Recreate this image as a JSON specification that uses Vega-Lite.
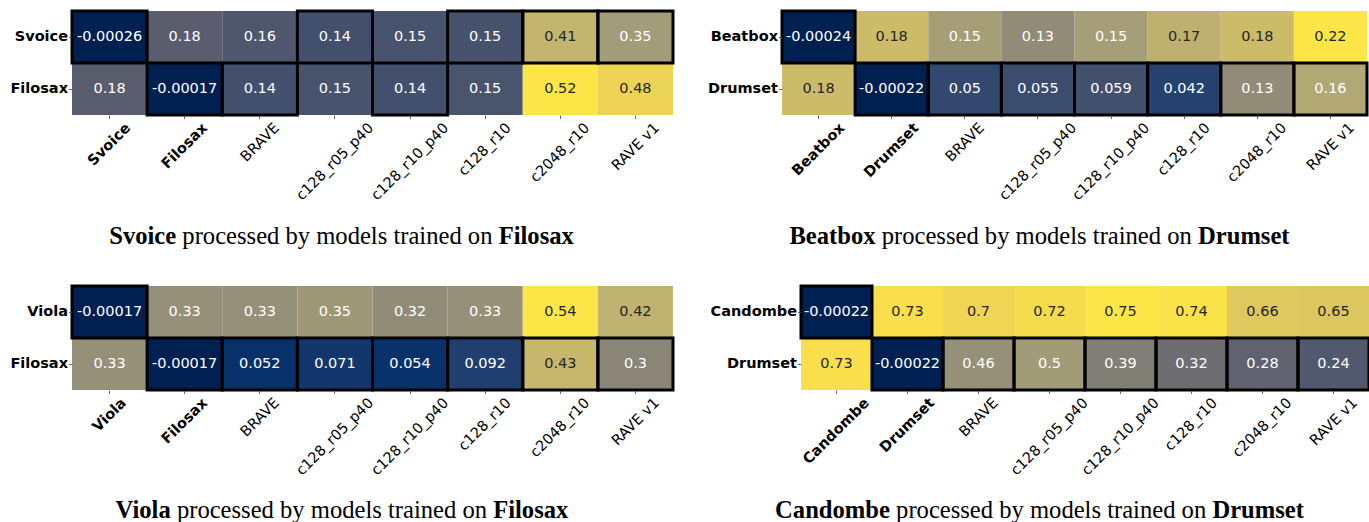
{
  "$schema": "https://vega.github.io/schema/vega-lite/v6.json",
  "padding": {"left": 9, "top": 9, "right": 0, "bottom": 0},
  "background": "white",
  "config": {"view": {"stroke": null}, "axis": {"grid": false}},
  "data": {"values": [
    {"panel": 1, "row": "Svoice", "col": "Svoice", "v": -0.00026},
    {"panel": 1, "row": "Svoice", "col": "Filosax", "v": 0.18},
    {"panel": 1, "row": "Svoice", "col": "BRAVE", "v": 0.16},
    {"panel": 1, "row": "Svoice", "col": "c128_r05_p40", "v": 0.14},
    {"panel": 1, "row": "Svoice", "col": "c128_r10_p40", "v": 0.15},
    {"panel": 1, "row": "Svoice", "col": "c128_r10", "v": 0.149},
    {"panel": 1, "row": "Svoice", "col": "c2048_r10", "v": 0.41},
    {"panel": 1, "row": "Svoice", "col": "RAVE v1", "v": 0.35},
    {"panel": 1, "row": "Filosax", "col": "Svoice", "v": 0.18},
    {"panel": 1, "row": "Filosax", "col": "Filosax", "v": -0.00017},
    {"panel": 1, "row": "Filosax", "col": "BRAVE", "v": 0.14},
    {"panel": 1, "row": "Filosax", "col": "c128_r05_p40", "v": 0.15},
    {"panel": 1, "row": "Filosax", "col": "c128_r10_p40", "v": 0.14},
    {"panel": 1, "row": "Filosax", "col": "c128_r10", "v": 0.152},
    {"panel": 1, "row": "Filosax", "col": "c2048_r10", "v": 0.52},
    {"panel": 1, "row": "Filosax", "col": "RAVE v1", "v": 0.48},
    {"panel": 2, "row": "Beatbox", "col": "Beatbox", "v": -0.00024},
    {"panel": 2, "row": "Beatbox", "col": "Drumset", "v": 0.18},
    {"panel": 2, "row": "Beatbox", "col": "BRAVE", "v": 0.15},
    {"panel": 2, "row": "Beatbox", "col": "c128_r05_p40", "v": 0.13},
    {"panel": 2, "row": "Beatbox", "col": "c128_r10_p40", "v": 0.15},
    {"panel": 2, "row": "Beatbox", "col": "c128_r10", "v": 0.17},
    {"panel": 2, "row": "Beatbox", "col": "c2048_r10", "v": 0.18},
    {"panel": 2, "row": "Beatbox", "col": "RAVE v1", "v": 0.22},
    {"panel": 2, "row": "Drumset", "col": "Beatbox", "v": 0.18},
    {"panel": 2, "row": "Drumset", "col": "Drumset", "v": -0.00022},
    {"panel": 2, "row": "Drumset", "col": "BRAVE", "v": 0.05},
    {"panel": 2, "row": "Drumset", "col": "c128_r05_p40", "v": 0.055},
    {"panel": 2, "row": "Drumset", "col": "c128_r10_p40", "v": 0.059},
    {"panel": 2, "row": "Drumset", "col": "c128_r10", "v": 0.042},
    {"panel": 2, "row": "Drumset", "col": "c2048_r10", "v": 0.13},
    {"panel": 2, "row": "Drumset", "col": "RAVE v1", "v": 0.16},
    {"panel": 3, "row": "Viola", "col": "Viola", "v": -0.00017},
    {"panel": 3, "row": "Viola", "col": "Filosax", "v": 0.33},
    {"panel": 3, "row": "Viola", "col": "BRAVE", "v": 0.33},
    {"panel": 3, "row": "Viola", "col": "c128_r05_p40", "v": 0.35},
    {"panel": 3, "row": "Viola", "col": "c128_r10_p40", "v": 0.32},
    {"panel": 3, "row": "Viola", "col": "c128_r10", "v": 0.33},
    {"panel": 3, "row": "Viola", "col": "c2048_r10", "v": 0.54},
    {"panel": 3, "row": "Viola", "col": "RAVE v1", "v": 0.42},
    {"panel": 3, "row": "Filosax", "col": "Viola", "v": 0.33},
    {"panel": 3, "row": "Filosax", "col": "Filosax", "v": -0.00017},
    {"panel": 3, "row": "Filosax", "col": "BRAVE", "v": 0.052},
    {"panel": 3, "row": "Filosax", "col": "c128_r05_p40", "v": 0.071},
    {"panel": 3, "row": "Filosax", "col": "c128_r10_p40", "v": 0.054},
    {"panel": 3, "row": "Filosax", "col": "c128_r10", "v": 0.092},
    {"panel": 3, "row": "Filosax", "col": "c2048_r10", "v": 0.43},
    {"panel": 3, "row": "Filosax", "col": "RAVE v1", "v": 0.3},
    {"panel": 4, "row": "Candombe", "col": "Candombe", "v": -0.00022},
    {"panel": 4, "row": "Candombe", "col": "Drumset", "v": 0.73},
    {"panel": 4, "row": "Candombe", "col": "BRAVE", "v": 0.7},
    {"panel": 4, "row": "Candombe", "col": "c128_r05_p40", "v": 0.72},
    {"panel": 4, "row": "Candombe", "col": "c128_r10_p40", "v": 0.75},
    {"panel": 4, "row": "Candombe", "col": "c128_r10", "v": 0.74},
    {"panel": 4, "row": "Candombe", "col": "c2048_r10", "v": 0.66},
    {"panel": 4, "row": "Candombe", "col": "RAVE v1", "v": 0.65},
    {"panel": 4, "row": "Drumset", "col": "Candombe", "v": 0.73},
    {"panel": 4, "row": "Drumset", "col": "Drumset", "v": -0.00022},
    {"panel": 4, "row": "Drumset", "col": "BRAVE", "v": 0.46},
    {"panel": 4, "row": "Drumset", "col": "c128_r05_p40", "v": 0.5},
    {"panel": 4, "row": "Drumset", "col": "c128_r10_p40", "v": 0.39},
    {"panel": 4, "row": "Drumset", "col": "c128_r10", "v": 0.32},
    {"panel": 4, "row": "Drumset", "col": "c2048_r10", "v": 0.28},
    {"panel": 4, "row": "Drumset", "col": "RAVE v1", "v": 0.24}
  ]},
  "spacing": 36,
  "resolve": {"scale": {"color": "independent", "x": "independent", "y": "independent"}},
  "vconcat": [
    {
      "spacing": 32,
      "resolve": {"scale": {"color": "independent", "x": "independent", "y": "independent"}},
      "hconcat": [
        {
          "width": 601, "height": 104,
          "transform": [
            {"filter": "datum.panel == 1"},
            {"joinaggregate": [{"op": "min", "field": "v", "as": "vmin"}, {"op": "max", "field": "v", "as": "vmax"}]},
            {"joinaggregate": [{"op": "min", "field": "v", "as": "cmin"}], "groupby": ["col"]},
            {"calculate": "(datum.v - datum.vmin) / (datum.vmax - datum.vmin)", "as": "t"},
            {"calculate": "replace(format(datum.v, '.2~g'), '\u2212', '-')", "as": "label"}
          ],
          "encoding": {
            "x": {"field": "col", "type": "nominal",
              "scale": {"domain": ["Svoice", "Filosax", "BRAVE", "c128_r05_p40", "c128_r10_p40", "c128_r10", "c2048_r10", "RAVE v1"], "paddingInner": 0, "paddingOuter": 0},
              "axis": {"orient": "bottom", "labelAngle": -45, "labelAlign": "right", "labelBaseline": "middle",
                "labelFont": "DejaVu Sans", "labelFontSize": 14.5, "labelColor": "#000",
                "labelFontWeight": {"condition": {"test": "indexof(['Svoice','Filosax','Beatbox','Drumset','Viola','Candombe'], datum.value) >= 0", "value": "bold"}, "value": "normal"},
                "labelOffset": {"condition": [
                  {"test": "datum.value == 'Svoice'", "value": 18.8},
                  {"test": "datum.value == 'Filosax'", "value": 20.5},
                  {"test": "datum.value == 'Beatbox'", "value": 23.9},
                  {"test": "datum.value == 'Drumset'", "value": 24.8},
                  {"test": "datum.value == 'Viola'", "value": 14.5},
                  {"test": "datum.value == 'Candombe'", "value": 30.6},
                  {"test": "datum.value == 'BRAVE'", "value": 17.3},
                  {"test": "datum.value == 'c128_r05_p40' || datum.value == 'c128_r10_p40'", "value": 36.4},
                  {"test": "datum.value == 'c128_r10'", "value": 23.8},
                  {"test": "datum.value == 'c2048_r10'", "value": 27.1}
                ], "value": 21.7},
                "labelPadding": 7, "labelOverlap": false, "labelBound": false,
                "tickSize": 3.5, "tickColor": "#444", "tickWidth": 0.8, "domain": false,
                "title": "processed by models trained on", "titleX": 264.9, "titleY": 128, "titleAlign": "center", "titleBaseline": "alphabetic", "titleAngle": 0,
                "titleFont": "Liberation Serif", "titleFontSize": 24.6, "titleFontWeight": "normal", "titleColor": "#000"}}
          },
          "layer": [
            {"mark": {"type": "rect"},
              "encoding": {
                "y": {"field": "row", "type": "nominal", "scale": {"domain": ["Svoice", "Filosax"], "paddingInner": 0, "paddingOuter": 0},
                  "axis": {"orient": "left", "labelFont": "DejaVu Sans", "labelFontSize": 14.5, "labelFontWeight": "bold", "labelColor": "#000", "labelPadding": 1,
                    "tickSize": 3.5, "tickColor": "#444", "tickWidth": 0.8, "domain": false, "labelOverlap": false,
                    "title": "Svoice", "titleAngle": 0, "titleAlign": "right", "titleBaseline": "alphabetic", "titleX": 103.65, "titleY": 232,
                    "titleFont": "Liberation Serif", "titleFontSize": 24.6, "titleFontWeight": "bold", "titleColor": "#000"}},
                "color": {"field": "v", "type": "quantitative", "scale": {"scheme": "cividis"}, "legend": null}
              }},
            {"mark": {"type": "text", "font": "DejaVu Sans", "fontSize": 14.5},
              "encoding": {
                "y": {"field": "row", "type": "nominal",
                  "axis": {"orient": "right", "labels": false, "ticks": false, "domain": false,
                    "title": "Filosax", "titleAngle": 0, "titleAlign": "left", "titleBaseline": "alphabetic", "titleX": -174.85, "titleY": 232,
                    "titleFont": "Liberation Serif", "titleFontSize": 24.6, "titleFontWeight": "bold", "titleColor": "#000"}},
                "text": {"field": "label"},
                "color": {"condition": {"test": "datum.t > 0.755", "value": "#262626"}, "value": "#ffffff"}
              }},
            {"mark": {"type": "rect", "fill": "transparent", "stroke": "#000", "strokeWidth": 3},
              "encoding": {
                "y": {"field": "row", "type": "nominal", "axis": null},
                "strokeOpacity": {"condition": {"test": "datum.v == datum.cmin", "value": 1}, "value": 0}
              }}
          ],
          "resolve": {"axis": {"y": "independent"}}
        },
        {
          "width": 585, "height": 104,
          "transform": [
            {"filter": "datum.panel == 2"},
            {"joinaggregate": [{"op": "min", "field": "v", "as": "vmin"}, {"op": "max", "field": "v", "as": "vmax"}]},
            {"joinaggregate": [{"op": "min", "field": "v", "as": "cmin"}], "groupby": ["col"]},
            {"calculate": "(datum.v - datum.vmin) / (datum.vmax - datum.vmin)", "as": "t"},
            {"calculate": "replace(format(datum.v, '.2~g'), '\u2212', '-')", "as": "label"}
          ],
          "encoding": {
            "x": {"field": "col", "type": "nominal",
              "scale": {"domain": ["Beatbox", "Drumset", "BRAVE", "c128_r05_p40", "c128_r10_p40", "c128_r10", "c2048_r10", "RAVE v1"], "paddingInner": 0, "paddingOuter": 0},
              "axis": {"orient": "bottom", "labelAngle": -45, "labelAlign": "right", "labelBaseline": "middle",
                "labelFont": "DejaVu Sans", "labelFontSize": 14.5, "labelColor": "#000",
                "labelFontWeight": {"condition": {"test": "indexof(['Svoice','Filosax','Beatbox','Drumset','Viola','Candombe'], datum.value) >= 0", "value": "bold"}, "value": "normal"},
                "labelOffset": {"condition": [
                  {"test": "datum.value == 'Svoice'", "value": 18.8},
                  {"test": "datum.value == 'Filosax'", "value": 20.5},
                  {"test": "datum.value == 'Beatbox'", "value": 23.9},
                  {"test": "datum.value == 'Drumset'", "value": 24.8},
                  {"test": "datum.value == 'Viola'", "value": 14.5},
                  {"test": "datum.value == 'Candombe'", "value": 30.6},
                  {"test": "datum.value == 'BRAVE'", "value": 17.3},
                  {"test": "datum.value == 'c128_r05_p40' || datum.value == 'c128_r10_p40'", "value": 36.4},
                  {"test": "datum.value == 'c128_r10'", "value": 23.8},
                  {"test": "datum.value == 'c2048_r10'", "value": 27.1}
                ], "value": 21.7},
                "labelPadding": 7, "labelOverlap": false, "labelBound": false,
                "tickSize": 3.5, "tickColor": "#444", "tickWidth": 0.8, "domain": false,
                "title": "processed by models trained on", "titleX": 254.28, "titleY": 128, "titleAlign": "center", "titleBaseline": "alphabetic", "titleAngle": 0,
                "titleFont": "Liberation Serif", "titleFontSize": 24.6, "titleFontWeight": "normal", "titleColor": "#000"}}
          },
          "layer": [
            {"mark": {"type": "rect"},
              "encoding": {
                "y": {"field": "row", "type": "nominal", "scale": {"domain": ["Beatbox", "Drumset"], "paddingInner": 0, "paddingOuter": 0},
                  "axis": {"orient": "left", "labelFont": "DejaVu Sans", "labelFontSize": 14.5, "labelFontWeight": "bold", "labelColor": "#000", "labelPadding": 1,
                    "tickSize": 3.5, "tickColor": "#444", "tickWidth": 0.8, "domain": false, "labelOverlap": false,
                    "title": "Beatbox", "titleAngle": 0, "titleAlign": "right", "titleBaseline": "alphabetic", "titleX": 93.03, "titleY": 232,
                    "titleFont": "Liberation Serif", "titleFontSize": 24.6, "titleFontWeight": "bold", "titleColor": "#000"}},
                "color": {"field": "v", "type": "quantitative", "scale": {"scheme": "cividis"}, "legend": null}
              }},
            {"mark": {"type": "text", "font": "DejaVu Sans", "fontSize": 14.5},
              "encoding": {
                "y": {"field": "row", "type": "nominal",
                  "axis": {"orient": "right", "labels": false, "ticks": false, "domain": false,
                    "title": "Drumset", "titleAngle": 0, "titleAlign": "left", "titleBaseline": "alphabetic", "titleX": -169.47, "titleY": 232,
                    "titleFont": "Liberation Serif", "titleFontSize": 24.6, "titleFontWeight": "bold", "titleColor": "#000"}},
                "text": {"field": "label"},
                "color": {"condition": {"test": "datum.t > 0.755", "value": "#262626"}, "value": "#ffffff"}
              }},
            {"mark": {"type": "rect", "fill": "transparent", "stroke": "#000", "strokeWidth": 3},
              "encoding": {
                "y": {"field": "row", "type": "nominal", "axis": null},
                "strokeOpacity": {"condition": {"test": "datum.v == datum.cmin", "value": 1}, "value": 0}
              }}
          ],
          "resolve": {"axis": {"y": "independent"}}
        }
      ]
    },
    {
      "spacing": 35,
      "resolve": {"scale": {"color": "independent", "x": "independent", "y": "independent"}},
      "hconcat": [
        {
          "width": 601, "height": 104,
          "transform": [
            {"filter": "datum.panel == 3"},
            {"joinaggregate": [{"op": "min", "field": "v", "as": "vmin"}, {"op": "max", "field": "v", "as": "vmax"}]},
            {"joinaggregate": [{"op": "min", "field": "v", "as": "cmin"}], "groupby": ["col"]},
            {"calculate": "(datum.v - datum.vmin) / (datum.vmax - datum.vmin)", "as": "t"},
            {"calculate": "replace(format(datum.v, '.2~g'), '\u2212', '-')", "as": "label"}
          ],
          "encoding": {
            "x": {"field": "col", "type": "nominal",
              "scale": {"domain": ["Viola", "Filosax", "BRAVE", "c128_r05_p40", "c128_r10_p40", "c128_r10", "c2048_r10", "RAVE v1"], "paddingInner": 0, "paddingOuter": 0},
              "axis": {"orient": "bottom", "labelAngle": -45, "labelAlign": "right", "labelBaseline": "middle",
                "labelFont": "DejaVu Sans", "labelFontSize": 14.5, "labelColor": "#000",
                "labelFontWeight": {"condition": {"test": "indexof(['Svoice','Filosax','Beatbox','Drumset','Viola','Candombe'], datum.value) >= 0", "value": "bold"}, "value": "normal"},
                "labelOffset": {"condition": [
                  {"test": "datum.value == 'Svoice'", "value": 18.8},
                  {"test": "datum.value == 'Filosax'", "value": 20.5},
                  {"test": "datum.value == 'Beatbox'", "value": 23.9},
                  {"test": "datum.value == 'Drumset'", "value": 24.8},
                  {"test": "datum.value == 'Viola'", "value": 14.5},
                  {"test": "datum.value == 'Candombe'", "value": 30.6},
                  {"test": "datum.value == 'BRAVE'", "value": 17.3},
                  {"test": "datum.value == 'c128_r05_p40' || datum.value == 'c128_r10_p40'", "value": 36.4},
                  {"test": "datum.value == 'c128_r10'", "value": 23.8},
                  {"test": "datum.value == 'c2048_r10'", "value": 27.1}
                ], "value": 21.7},
                "labelPadding": 7, "labelOverlap": false, "labelBound": false,
                "tickSize": 3.5, "tickColor": "#444", "tickWidth": 0.8, "domain": false,
                "title": "processed by models trained on", "titleX": 259.43, "titleY": 127, "titleAlign": "center", "titleBaseline": "alphabetic", "titleAngle": 0,
                "titleFont": "Liberation Serif", "titleFontSize": 24.6, "titleFontWeight": "normal", "titleColor": "#000"}}
          },
          "layer": [
            {"mark": {"type": "rect"},
              "encoding": {
                "y": {"field": "row", "type": "nominal", "scale": {"domain": ["Viola", "Filosax"], "paddingInner": 0, "paddingOuter": 0},
                  "axis": {"orient": "left", "labelFont": "DejaVu Sans", "labelFontSize": 14.5, "labelFontWeight": "bold", "labelColor": "#000", "labelPadding": 1,
                    "tickSize": 3.5, "tickColor": "#444", "tickWidth": 0.8, "domain": false, "labelOverlap": false,
                    "title": "Viola", "titleAngle": 0, "titleAlign": "right", "titleBaseline": "alphabetic", "titleX": 98.18, "titleY": 231,
                    "titleFont": "Liberation Serif", "titleFontSize": 24.6, "titleFontWeight": "bold", "titleColor": "#000"}},
                "color": {"field": "v", "type": "quantitative", "scale": {"scheme": "cividis"}, "legend": null}
              }},
            {"mark": {"type": "text", "font": "DejaVu Sans", "fontSize": 14.5},
              "encoding": {
                "y": {"field": "row", "type": "nominal",
                  "axis": {"orient": "right", "labels": false, "ticks": false, "domain": false,
                    "title": "Filosax", "titleAngle": 0, "titleAlign": "left", "titleBaseline": "alphabetic", "titleX": -180.32, "titleY": 231,
                    "titleFont": "Liberation Serif", "titleFontSize": 24.6, "titleFontWeight": "bold", "titleColor": "#000"}},
                "text": {"field": "label"},
                "color": {"condition": {"test": "datum.t > 0.755", "value": "#262626"}, "value": "#ffffff"}
              }},
            {"mark": {"type": "rect", "fill": "transparent", "stroke": "#000", "strokeWidth": 3},
              "encoding": {
                "y": {"field": "row", "type": "nominal", "axis": null},
                "strokeOpacity": {"condition": {"test": "datum.v == datum.cmin", "value": 1}, "value": 0}
              }}
          ],
          "resolve": {"axis": {"y": "independent"}}
        },
        {
          "width": 568, "height": 104,
          "transform": [
            {"filter": "datum.panel == 4"},
            {"joinaggregate": [{"op": "min", "field": "v", "as": "vmin"}, {"op": "max", "field": "v", "as": "vmax"}]},
            {"joinaggregate": [{"op": "min", "field": "v", "as": "cmin"}], "groupby": ["col"]},
            {"calculate": "(datum.v - datum.vmin) / (datum.vmax - datum.vmin)", "as": "t"},
            {"calculate": "replace(format(datum.v, '.2~g'), '\u2212', '-')", "as": "label"}
          ],
          "encoding": {
            "x": {"field": "col", "type": "nominal",
              "scale": {"domain": ["Candombe", "Drumset", "BRAVE", "c128_r05_p40", "c128_r10_p40", "c128_r10", "c2048_r10", "RAVE v1"], "paddingInner": 0, "paddingOuter": 0},
              "axis": {"orient": "bottom", "labelAngle": -45, "labelAlign": "right", "labelBaseline": "middle",
                "labelFont": "DejaVu Sans", "labelFontSize": 14.5, "labelColor": "#000",
                "labelFontWeight": {"condition": {"test": "indexof(['Svoice','Filosax','Beatbox','Drumset','Viola','Candombe'], datum.value) >= 0", "value": "bold"}, "value": "normal"},
                "labelOffset": {"condition": [
                  {"test": "datum.value == 'Svoice'", "value": 18.8},
                  {"test": "datum.value == 'Filosax'", "value": 20.5},
                  {"test": "datum.value == 'Beatbox'", "value": 23.9},
                  {"test": "datum.value == 'Drumset'", "value": 24.8},
                  {"test": "datum.value == 'Viola'", "value": 14.5},
                  {"test": "datum.value == 'Candombe'", "value": 30.6},
                  {"test": "datum.value == 'BRAVE'", "value": 17.3},
                  {"test": "datum.value == 'c128_r05_p40' || datum.value == 'c128_r10_p40'", "value": 36.4},
                  {"test": "datum.value == 'c128_r10'", "value": 23.8},
                  {"test": "datum.value == 'c2048_r10'", "value": 27.1}
                ], "value": 21.7},
                "labelPadding": 7, "labelOverlap": false, "labelBound": false,
                "tickSize": 3.5, "tickColor": "#444", "tickWidth": 0.8, "domain": false,
                "title": "processed by models trained on", "titleX": 249.63, "titleY": 127, "titleAlign": "center", "titleBaseline": "alphabetic", "titleAngle": 0,
                "titleFont": "Liberation Serif", "titleFontSize": 24.6, "titleFontWeight": "normal", "titleColor": "#000"}}
          },
          "layer": [
            {"mark": {"type": "rect"},
              "encoding": {
                "y": {"field": "row", "type": "nominal", "scale": {"domain": ["Candombe", "Drumset"], "paddingInner": 0, "paddingOuter": 0},
                  "axis": {"orient": "left", "labelFont": "DejaVu Sans", "labelFontSize": 14.5, "labelFontWeight": "bold", "labelColor": "#000", "labelPadding": 1,
                    "tickSize": 3.5, "tickColor": "#444", "tickWidth": 0.8, "domain": false, "labelOverlap": false,
                    "title": "Candombe", "titleAngle": 0, "titleAlign": "right", "titleBaseline": "alphabetic", "titleX": 88.38, "titleY": 231,
                    "titleFont": "Liberation Serif", "titleFontSize": 24.6, "titleFontWeight": "bold", "titleColor": "#000"}},
                "color": {"field": "v", "type": "quantitative", "scale": {"scheme": "cividis"}, "legend": null}
              }},
            {"mark": {"type": "text", "font": "DejaVu Sans", "fontSize": 14.5},
              "encoding": {
                "y": {"field": "row", "type": "nominal",
                  "axis": {"orient": "right", "labels": false, "ticks": false, "domain": false,
                    "title": "Drumset", "titleAngle": 0, "titleAlign": "left", "titleBaseline": "alphabetic", "titleX": -157.12, "titleY": 231,
                    "titleFont": "Liberation Serif", "titleFontSize": 24.6, "titleFontWeight": "bold", "titleColor": "#000"}},
                "text": {"field": "label"},
                "color": {"condition": {"test": "datum.t > 0.755", "value": "#262626"}, "value": "#ffffff"}
              }},
            {"mark": {"type": "rect", "fill": "transparent", "stroke": "#000", "strokeWidth": 3},
              "encoding": {
                "y": {"field": "row", "type": "nominal", "axis": null},
                "strokeOpacity": {"condition": {"test": "datum.v == datum.cmin", "value": 1}, "value": 0}
              }}
          ],
          "resolve": {"axis": {"y": "independent"}}
        }
      ]
    }
  ]
}
